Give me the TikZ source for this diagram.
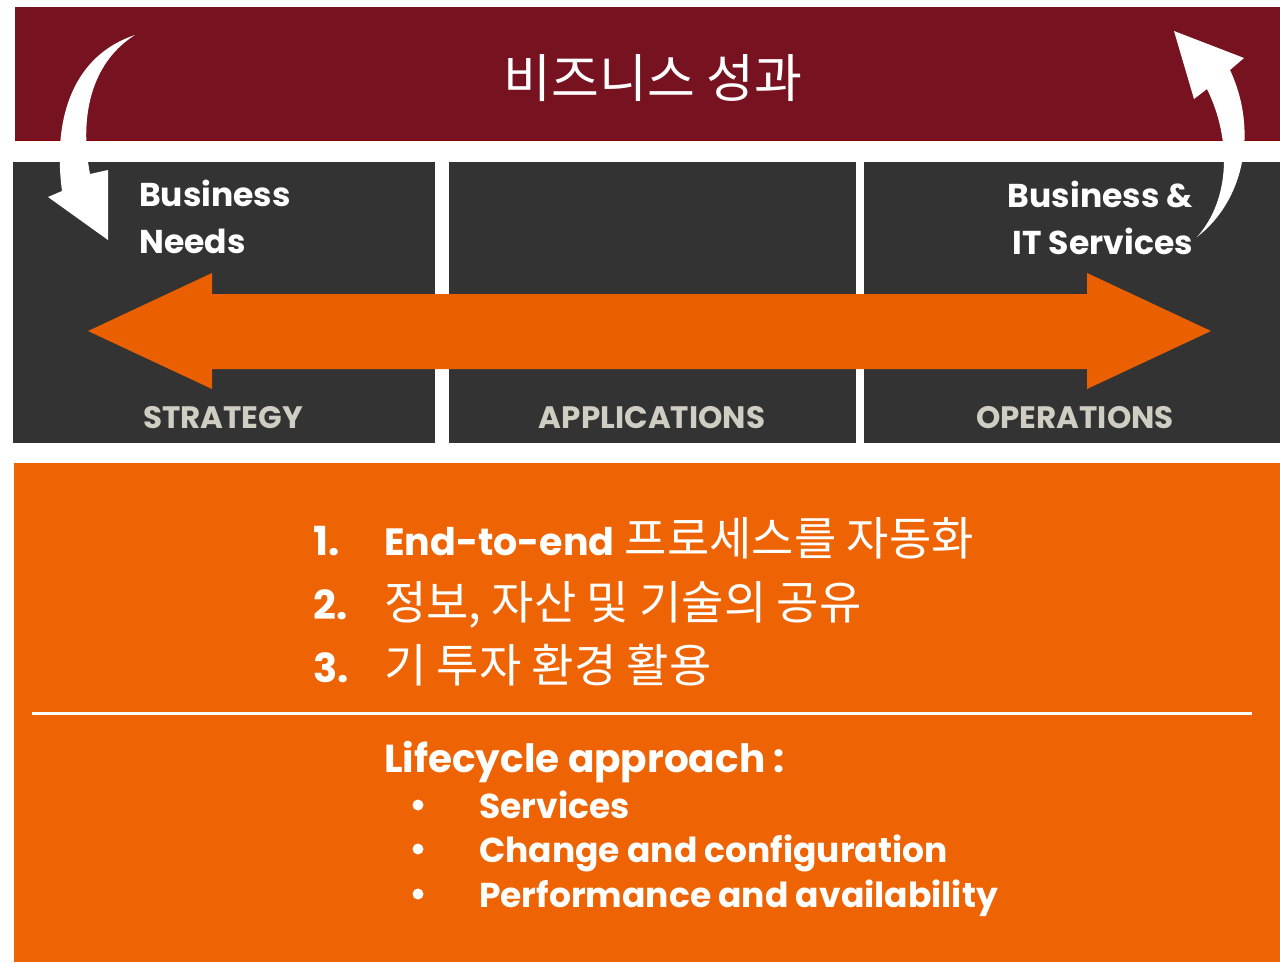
\documentclass[tikz,border=0pt]{standalone}
\usepackage{fontspec}
\setmainfont{Poppins}
\newfontfamily\cjk{Noto Sans CJK KR}
\usetikzlibrary{positioning}
\definecolor{bannerred}{HTML}{771220}
\definecolor{panelgray}{HTML}{333333}
\definecolor{arroworange}{HTML}{EA6000}
\definecolor{boxorange}{HTML}{EE6405}
\definecolor{labelgray}{HTML}{D0CDC3}

\begin{document}
\begin{tikzpicture}[x=1pt, y=-1pt,
    panel/.style={fill=panelgray},
    headline/.style={text=white, font=\bfseries\fontsize{33}{47}\selectfont, align=left},
    phase/.style={text=labelgray, font=\bfseries\fontsize{31}{34}\selectfont, anchor=base},
    item/.style={text=white, anchor=base west, inner sep=0pt, font=\fontsize{38}{48}\selectfont},
    hangul/.style={font=\cjk\fontsize{46}{50}\selectfont},
    sub/.style={text=white, anchor=base west, inner sep=0pt, font=\bfseries\fontsize{34.5}{40}\selectfont}]
  \useasboundingbox (0,0) rectangle (1280,962);

  % banner
  \fill [bannerred] (15,7) rectangle (1280,141);
  \draw [red!55!black, line width=1.5pt] (15,140.5) -- (1280,140.5);
  \node [text=white, font=\cjk\fontsize{52}{56}\selectfont] (result) at (653,78) {비즈니스 성과};

  % panels
  \fill [panel] (13,162) rectangle (435,443);
  \fill [panel] (449,162) rectangle (856,443);
  \fill [panel] (864,162) rectangle (1280,443);

  % double arrow
  \fill [arroworange] (88,331) -- (212,273) -- (212,294) -- (1087,294) -- (1087,273)
    -- (1211,331) -- (1087,389) -- (1087,369) -- (212,369) -- (212,389) -- cycle;

  \node [headline, anchor=north west, inner sep=0pt] (needs) at (139,180) {Business\\Needs};
  \node [headline, anchor=north east, inner sep=0pt, align=right] (services) at (1193,181) {Business \&\\IT Services};

  \node [phase] (strategy) at (223,428) {STRATEGY};
  \node [phase] (apps) at (652,428) {APPLICATIONS};
  \node [phase] (ops) at (1075,428) {OPERATIONS};

  % curved arrows
  \fill [white] (135,35) .. controls (75,55) and (52,115) .. (62,191) -- (48,197) -- (108,240)
    -- (108,170) -- (90,174) .. controls (78,110) and (95,60) .. (135,35) -- cycle;
  \fill [white] (1197,237) .. controls (1245,200) and (1258,130) .. (1230,70) -- (1244,58)
    -- (1174,31) -- (1194,99) -- (1207,89) .. controls (1232,140) and (1230,200) .. (1197,237) -- cycle;

  % bottom box
  \fill [boxorange] (14,463) rectangle (1280,962);
  \draw [white, line width=3pt] (32,713) -- (1252,713);

  \foreach \n/\y in {1/555, 2/619, 3/682}
    \node [item, font=\bfseries\fontsize{40}{48}\selectfont] (num\n) at (313,\y) {\n.};
  \node [item] (goal1) at (384,555) {{\bfseries End-to-end} {\cjk\fontsize{46}{50}\selectfont 프로세스를 자동화}};
  \node [item, hangul] (goal2) at (384,619) {정보, 자산 및 기술의 공유};
  \node [item, hangul] (goal3) at (384,682) {기 투자 환경 활용};

  \node [sub, font=\bfseries\fontsize{39}{40}\selectfont] (life) at (384,772) {Lifecycle approach :};
  \foreach \t/\y [count=\k] in {Services/818, Change and configuration/862, Performance and availability/907} {
    \fill [white] (418,\y-13) circle (5.5pt);
    \node [sub] (phase\k) at (479,\y) {\t};
  }
\end{tikzpicture}
\end{document}
